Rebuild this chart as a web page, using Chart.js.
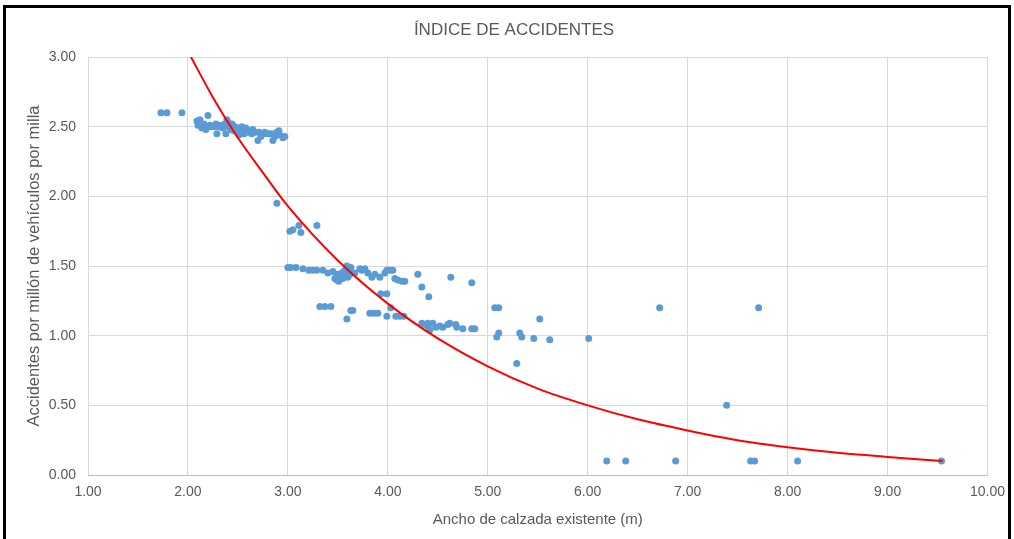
<!DOCTYPE html>
<html>
<head>
<meta charset="utf-8">
<script src="https://cdn.jsdelivr.net/npm/chart.js@4"></script>
<style>
  body { margin: 0; background: #fff; }
  #wrap { position: relative; width: 1014px; height: 539px; overflow: hidden; }
  #frame {
    position: absolute; left: 3px; top: 5px; width: 1002px; height: 545px;
    border: 3px solid #000; border-bottom: none; pointer-events: none;
  }
</style>
</head>
<body>
<div id="wrap">
  <canvas id="chart" width="1014" height="539"></canvas>
  <div id="frame"></div>
</div>
<script>
// ---- data ----
const anchoX = [
  1.73, 1.79, 1.94, 2.20,
  2.09, 2.10, 2.12, 2.14, 2.16, 2.18, 2.20, 2.22, 2.24, 2.26, 2.28, 2.29, 2.31, 2.33, 2.35, 2.37,
  2.38, 2.39, 2.40, 2.41, 2.43, 2.44, 2.46, 2.47, 2.49, 2.50, 2.51, 2.53, 2.54, 2.56, 2.57, 2.58,
  2.60, 2.62, 2.64, 2.65, 2.67, 2.70, 2.71, 2.73, 2.75, 2.77, 2.79, 2.81, 2.84, 2.85, 2.87, 2.89,
  2.91, 2.92, 2.95, 2.97,
  2.89, 3.02, 3.05, 3.11, 3.13, 3.29,
  3.00, 3.03, 3.08, 3.15, 3.21, 3.25, 3.29, 3.35, 3.40, 3.45, 3.47, 3.49, 3.50, 3.51, 3.52, 3.54,
  3.55, 3.57, 3.58, 3.59, 3.60, 3.62, 3.62, 3.63, 3.67, 3.72, 3.74, 3.77, 3.80, 3.84, 3.87, 3.92,
  3.97, 3.99, 4.02, 4.05, 4.07, 4.10, 4.14, 4.17, 4.30, 4.34, 4.41, 4.63, 4.84,
  3.93, 3.99,
  3.32, 3.37, 3.43, 3.59, 3.63, 3.65, 3.82, 3.86, 3.90, 3.99, 4.03, 4.08, 4.12, 4.16,
  4.34, 4.37, 4.40, 4.40, 4.42, 4.45, 4.48, 4.52, 4.55, 4.60, 4.62, 4.68, 4.69, 4.75, 4.84, 4.87,
  5.07, 5.11, 5.11, 5.09, 5.32, 5.34, 5.46, 5.52, 5.62, 6.01, 5.29, 6.72, 7.71, 7.39,
  6.19, 6.38, 6.88, 7.63, 7.67, 8.10, 9.54
];
const accidentesY = [
  2.60, 2.60, 2.60, 2.58,
  2.54, 2.51, 2.55, 2.49, 2.52, 2.48, 2.50, 2.51, 2.50, 2.50, 2.52, 2.45, 2.50, 2.51, 2.49, 2.52,
  2.45, 2.55, 2.53, 2.50, 2.48, 2.52, 2.47, 2.50, 2.46, 2.49, 2.44, 2.47, 2.50, 2.45, 2.48, 2.49,
  2.46, 2.47, 2.45, 2.48, 2.46, 2.40, 2.46, 2.43, 2.45, 2.46, 2.45, 2.45, 2.45, 2.40, 2.43, 2.46,
  2.47, 2.44, 2.42, 2.43,
  1.95, 1.75, 1.76, 1.79, 1.74, 1.79,
  1.49, 1.49, 1.49, 1.48, 1.47, 1.47, 1.47, 1.47, 1.45, 1.46, 1.41, 1.40, 1.44, 1.39, 1.42, 1.45,
  1.41, 1.47, 1.43, 1.50, 1.42, 1.46, 1.44, 1.49, 1.45, 1.48, 1.47, 1.48, 1.45, 1.42, 1.44, 1.42,
  1.45, 1.47, 1.47, 1.47, 1.41, 1.40, 1.39, 1.39, 1.44, 1.35, 1.28, 1.42, 1.38,
  1.30, 1.30,
  1.21, 1.21, 1.21, 1.12, 1.18, 1.18, 1.16, 1.16, 1.16, 1.14, 1.20, 1.14, 1.14, 1.14,
  1.09, 1.08, 1.07, 1.09, 1.04, 1.09, 1.06, 1.07, 1.06, 1.08, 1.09, 1.08, 1.06, 1.05, 1.05, 1.05,
  1.20, 1.20, 1.02, 0.99, 1.02, 0.99, 0.98, 1.12, 0.97, 0.98, 0.80, 1.20, 1.20, 0.50,
  0.10, 0.10, 0.10, 0.10, 0.10, 0.10, 0.10
];

// red trend curve, read at regular widths
const curvaX = [2.03, 2.25, 2.5, 2.75, 3.0, 3.5, 4.0, 4.5, 5.0, 5.5, 6.0, 6.5, 7.0, 7.5, 8.0, 8.5, 9.0, 9.55];
const curvaY = [3.00, 2.71, 2.42, 2.17, 1.93, 1.54, 1.23, 0.98, 0.78, 0.62, 0.50, 0.40, 0.32, 0.25, 0.20, 0.16, 0.13, 0.10];

const tituloGrafico = 'ÍNDICE DE ACCIDENTES';
const textColor = "#595959";
const gridColor = "#D9D9D9";
const fuente = 'Liberation Sans, Arial, sans-serif';

const puntos = anchoX.map((x, i) => ({ x: x, y: accidentesY[i] }));
const curva = curvaX.map((x, i) => ({ x: x, y: curvaY[i] }));

// title drawn over the whole frame (centred on the page, not on the plot)
const tituloPlugin = {
    id: 'tituloPlugin',
    afterDraw(chart) {
        const ctx = chart.ctx;
        ctx.save();
        ctx.font = '17px ' + fuente;
        ctx.fillStyle = textColor;
        ctx.textAlign = 'center';
        ctx.textBaseline = 'middle';
        ctx.fillText(tituloGrafico, 514, 30);
        ctx.restore();
    }
};

new Chart(document.getElementById("chart"), {
    type: 'scatter',
    data: {
        datasets: [
            {
                label: 'Tendencia',
                data: curva,
                showLine: true,
                borderColor: '#FF0000',
                borderWidth: 2,
                pointRadius: 0,
                cubicInterpolationMode: 'monotone'
            },
            {
                label: 'Índice',
                data: puntos,
                backgroundColor: '#5B9BD5',
                borderWidth: 0,
                pointRadius: 3.5,
                pointHoverRadius: 3.5
            }
        ]
    },
    plugins: [tituloPlugin],
    options: {
        responsive: false,
        animation: false,
        devicePixelRatio: 1,
        layout: { padding: { top: 57, right: 26, bottom: 0, left: 0 } },
        plugins: {
            legend: { display: false },
            tooltip: { enabled: false }
        },
        scales: {
            x: {
                type: 'linear',
                min: 1,
                max: 10,
                afterFit: (s) => { s.height = 64; },
                ticks: {
                    stepSize: 1,
                    padding: 9,
                    color: textColor,
                    font: { family: fuente, size: 14 },
                    callback: (v) => v.toFixed(2)
                },
                grid: { color: gridColor, drawTicks: false },
                border: { color: '#BFBFBF' },
                title: {
                    display: true,
                    text: 'Ancho de calzada existente (m)',
                    color: textColor,
                    font: { family: fuente, size: 15 },
                    padding: { top: 4, bottom: 10 }
                }
            },
            y: {
                min: 0,
                max: 3,
                afterFit: (s) => { s.width = 88; },
                ticks: {
                    stepSize: 0.5,
                    padding: 12,
                    color: textColor,
                    font: { family: fuente, size: 14 },
                    callback: (v) => v.toFixed(2)
                },
                grid: { color: gridColor, drawTicks: false },
                border: { display: false },
                title: {
                    display: true,
                    text: 'Accidentes por millón de vehículos por milla',
                    color: textColor,
                    font: { family: fuente, size: 16.5 },
                    padding: { top: 25, bottom: 0 }
                }
            }
        }
    }
});
</script>
</body>
</html>
